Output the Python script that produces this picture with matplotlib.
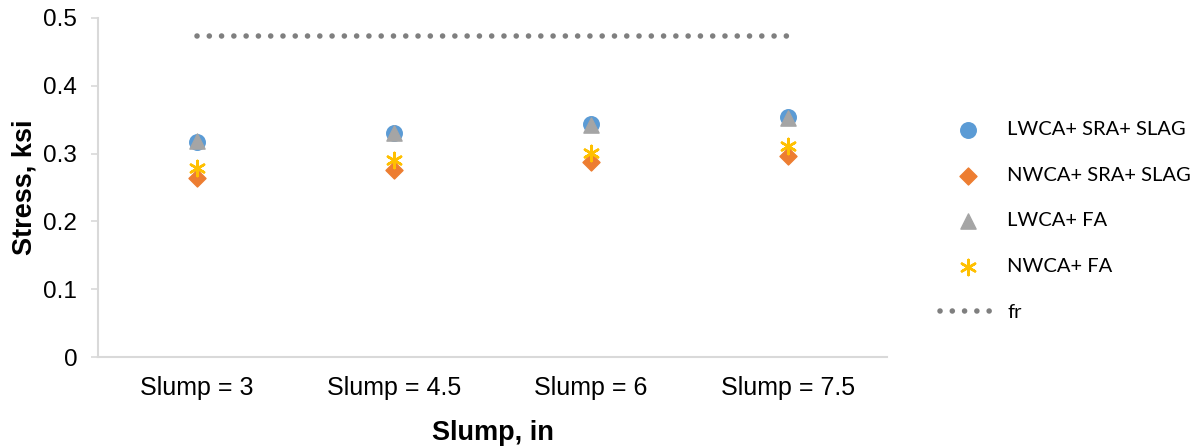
import matplotlib
matplotlib.use("Agg")
import matplotlib.pyplot as plt
import numpy as np

categories = ["Slump = 3", "Slump = 4.5", "Slump = 6", "Slump = 7.5"]
lwca_sra_slag = [0.317, 0.331, 0.343, 0.354]
nwca_sra_slag = [0.264, 0.276, 0.288, 0.297]
lwca_fa = [0.318, 0.331, 0.342, 0.353]
nwca_fa = [0.279, 0.290, 0.301, 0.311]
fr = [0.474, 0.474, 0.474, 0.474]
y_ticks = [0, 0.1, 0.2, 0.3, 0.4, 0.5]
y_tick_labels = ["0", "0.1", "0.2", "0.3", "0.4", "0.5"]

plt.rcParams["font.family"] = ["Liberation Sans", "DejaVu Sans"]

fig = plt.figure(figsize=(11.98, 4.46), dpi=100)
ax = fig.add_axes([98 / 1198, 89 / 446, 789 / 1198, 339 / 446])

x = np.arange(len(categories))

dotted = (0, (0.01, 2.2))
ax.plot(x, fr, linestyle=dotted, dash_capstyle="round", color="#7F7F7F",
        linewidth=4.0, label="fr", zorder=1)
ax.scatter(x, lwca_sra_slag, marker="o", s=125, color="#5B9BD5", label="LWCA+ SRA+ SLAG", zorder=3)
ax.scatter(x, nwca_sra_slag, marker="D", s=75, color="#ED7D31", label="NWCA+ SRA+ SLAG", zorder=3)
ax.scatter(x, lwca_fa, marker="^", s=120, color="#A5A5A5", label="LWCA+ FA", zorder=4)
ax.scatter(x, nwca_fa, marker=(6, 2, 0), s=120, color="#FFC000", linewidths=1.8,
           label="NWCA+ FA", zorder=4)

ax.set_xlim(-0.5, len(categories) - 0.5)
ax.set_ylim(0, 0.5)
ax.set_xticks(x)
ax.set_xticklabels(categories, fontsize=18)
ax.set_yticks(y_ticks)
ax.set_yticklabels(y_tick_labels, fontsize=17.5)
ax.tick_params(axis="x", length=0, pad=14, colors="#000000")
ax.tick_params(axis="y", length=5, width=1.2, color="#D9D9D9", pad=10)

for side in ["top", "right"]:
    ax.spines[side].set_visible(False)
for side in ["left", "bottom"]:
    ax.spines[side].set_color("#D9D9D9")
    ax.spines[side].set_linewidth(1.5)

ax.set_xlabel("Slump, in", fontsize=19.5, fontweight="bold", labelpad=14)
ax.set_ylabel("Stress, ksi", fontsize=19.5, fontweight="bold", labelpad=4)

handles, labels = ax.get_legend_handles_labels()
order = [1, 2, 3, 4, 0]
leg = fig.legend([handles[i] for i in order], [labels[i] for i in order],
                 loc="upper left", bbox_to_anchor=(940 / 1198, 1 - 121 / 446), frameon=False,
                 prop={"family": ["Lato", "DejaVu Sans"], "size": 14.5},
                 labelspacing=1.42, handlelength=2.75, handletextpad=0.6,
                 borderpad=0, borderaxespad=0)

fig.savefig("out.png", dpi=100)
